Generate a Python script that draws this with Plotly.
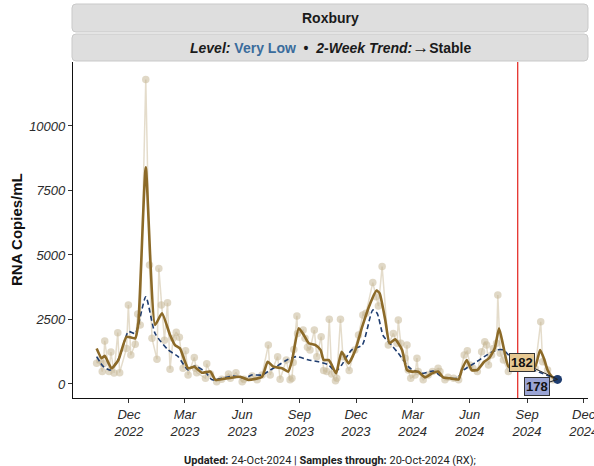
import plotly.graph_objects as go

# ---- data ----
sample_dates = [
    "2022-10-10", "2022-10-15", "2022-10-19", "2022-10-21", "2022-10-23", "2022-10-30",
    "2022-11-02", "2022-11-07", "2022-11-13", "2022-11-16", "2022-11-27", "2022-11-30",
    "2022-12-04", "2022-12-11", "2022-12-15", "2022-12-19", "2022-12-28", "2023-01-03",
    "2023-01-07", "2023-01-15", "2023-01-18", "2023-01-22", "2023-01-27", "2023-02-01",
    "2023-02-05", "2023-02-10", "2023-02-15", "2023-02-20", "2023-02-26", "2023-03-02",
    "2023-03-06", "2023-03-16", "2023-03-18", "2023-03-20", "2023-04-03", "2023-04-05",
    "2023-04-11", "2023-04-21", "2023-04-29", "2023-05-10", "2023-05-13", "2023-05-22",
    "2023-06-01", "2023-06-04", "2023-06-17", "2023-06-25", "2023-07-03", "2023-07-13",
    "2023-07-16", "2023-07-28", "2023-08-01", "2023-08-11", "2023-08-17", "2023-08-20",
    "2023-08-22", "2023-08-23", "2023-08-28", "2023-08-29", "2023-09-07", "2023-09-10",
    "2023-09-14", "2023-09-18", "2023-09-25", "2023-09-29", "2023-10-06", "2023-10-10",
    "2023-10-15", "2023-10-19", "2023-10-23", "2023-10-29", "2023-10-31", "2023-11-06",
    "2023-11-10", "2023-11-20", "2023-11-29", "2023-12-05", "2023-12-12", "2023-12-17",
    "2023-12-28", "2024-01-02", "2024-01-06", "2024-01-12", "2024-01-22", "2024-01-30",
    "2024-02-05", "2024-02-07", "2024-02-11", "2024-02-18", "2024-02-21", "2024-02-23",
    "2024-02-27", "2024-03-05", "2024-03-08", "2024-03-10", "2024-03-18", "2024-03-26",
    "2024-04-02", "2024-04-11", "2024-04-14", "2024-04-22", "2024-04-27", "2024-05-06",
    "2024-05-14", "2024-05-23", "2024-05-28", "2024-06-01", "2024-06-06", "2024-06-13",
    "2024-06-20", "2024-06-25", "2024-06-28", "2024-07-01", "2024-07-06", "2024-07-09",
    "2024-07-14", "2024-07-16", "2024-07-20", "2024-07-25", "2024-08-02", "2024-08-21",
    "2024-09-06", "2024-09-14", "2024-09-23", "2024-09-26", "2024-10-04", "2024-10-13",
    "2024-10-20",
]
sample_values = [
    800, 930, 480, 780, 1670, 480,
    1240, 430, 1990, 440, 1380, 3060,
    1120, 1540, 2710, 2290, 11800, 4610,
    1770, 960, 4480, 3060, 1700, 3150,
    570, 1770, 2010, 1810, 610, 1290,
    350, 1030, 610, 440, 220, 780,
    390, 90, 180, 390, 220, 440,
    90, 180, 310, 160, 350, 1510,
    350, 1060, 180, 930, 160, 220,
    830, 1340, 2640, 1960, 2090, 1770,
    1420, 1320, 2090, 1060, 1830, 520,
    480, 2510, 390, 130, 220, 2510,
    1060, 520, 1320, 1900, 2670, 2740,
    3930, 3380, 3020, 4550, 1510, 1960,
    1580, 2480, 1580, 1000, 1510, 540,
    220, 350, 1000, 480, 160, 350,
    480, 610, 480, 160, 260, 220,
    160, 1120, 1290, 740, 610, 480,
    1250, 1640, 1510, 740, 1120, 1380,
    1580, 3450, 1190, 930, 480, 860,
    930, 610, 2410, 860, 540, 160,
    180,
]

trend_dates = [
    "2022-10-10", "2022-10-18", "2022-10-23", "2022-11-03", "2022-11-14", "2022-11-27",
    "2022-12-11", "2022-12-16", "2022-12-28", "2023-01-12", "2023-01-23", "2023-02-05",
    "2023-02-13", "2023-02-21", "2023-03-06", "2023-03-16", "2023-03-28", "2023-04-11",
    "2023-04-19", "2023-05-08", "2023-05-29", "2023-06-11", "2023-07-03", "2023-07-12",
    "2023-07-21", "2023-08-04", "2023-08-14", "2023-08-20", "2023-08-31", "2023-09-08",
    "2023-09-16", "2023-09-27", "2023-10-05", "2023-10-10", "2023-10-18", "2023-10-23",
    "2023-10-30", "2023-11-08", "2023-11-19", "2023-11-30", "2023-12-11", "2023-12-24",
    "2024-01-03", "2024-01-08", "2024-01-17", "2024-01-24", "2024-02-02", "2024-02-13",
    "2024-02-21", "2024-02-29", "2024-03-10", "2024-03-21", "2024-04-01", "2024-04-11",
    "2024-04-19", "2024-04-30", "2024-05-14", "2024-05-19", "2024-05-27", "2024-06-04",
    "2024-06-13", "2024-06-24", "2024-07-02", "2024-07-11", "2024-07-18", "2024-07-25",
    "2024-08-02", "2024-08-13", "2024-09-06", "2024-09-14", "2024-09-22", "2024-09-28",
    "2024-10-04", "2024-10-11", "2024-10-20",
]
trend_values = [
    1380, 1000, 1090, 610, 930, 1830,
    1770, 2360, 8400, 2290, 2740, 1900,
    1510, 1380, 610, 670, 440, 480,
    160, 220, 280, 160, 280, 860,
    670, 610, 480, 900, 2160, 1900,
    1580, 1510, 1320, 930, 930, 740,
    410, 1250, 800, 1320, 2220, 3130,
    3620, 3510, 2480, 1580, 1730, 1320,
    540, 480, 480, 260, 410, 480,
    260, 220, 180, 540, 930, 540,
    540, 860, 1000, 1380, 2160, 1450,
    670, 600, 740, 670, 1320, 1000,
    540, 280, 182,
]

avg_dates = [
    "2022-10-10", "2022-10-21", "2022-11-01", "2022-11-16", "2022-11-30", "2022-12-11",
    "2022-12-28", "2023-01-12", "2023-02-02", "2023-02-18", "2023-03-06", "2023-03-17",
    "2023-04-02", "2023-04-14", "2023-04-29", "2023-05-18", "2023-06-06", "2023-06-16",
    "2023-07-03", "2023-07-16", "2023-07-30", "2023-08-12", "2023-08-27", "2023-09-16",
    "2023-10-02", "2023-10-18", "2023-10-29", "2023-11-08", "2023-11-24", "2023-12-11",
    "2023-12-28", "2024-01-04", "2024-01-14", "2024-01-27", "2024-02-07", "2024-02-26",
    "2024-03-16", "2024-04-03", "2024-04-19", "2024-05-11", "2024-05-22", "2024-06-12",
    "2024-06-28", "2024-07-14", "2024-07-25", "2024-08-10", "2024-09-06", "2024-10-20",
]
avg_values = [
    1060, 670, 540, 1060, 2030, 1960,
    3380, 1960, 1320, 1060, 540, 700,
    480, 160, 220, 310, 220, 350,
    350, 540, 740, 930, 1060, 930,
    860, 740, 480, 740, 1320, 1510,
    2870, 2740, 1860, 1510, 1190, 610,
    410, 500, 260, 220, 540, 860,
    1120, 1320, 1320, 930, 600, 178,
]

marker_date = "2024-08-17"
x_tick_vals = ["2022-12-01", "2023-03-01", "2023-06-01", "2023-09-01", "2023-12-01",
               "2024-03-01", "2024-06-01", "2024-09-01", "2024-12-01"]
x_tick_text = ["Dec<br>2022", "Mar<br>2023", "Jun<br>2023", "Sep<br>2023", "Dec<br>2023",
               "Mar<br>2024", "Jun<br>2024", "Sep<br>2024", "Dec<br>2024"]
y_tick_vals = [0, 2500, 5000, 7500, 10000]

FONT = "Liberation Sans, Arial, sans-serif"

fig = go.Figure()

# raw samples
fig.add_trace(go.Scatter(
    x=sample_dates, y=sample_values, mode="lines+markers",
    line=dict(color="rgba(210,196,168,0.6)", width=1.5),
    marker=dict(size=7.5, color="rgba(198,184,152,0.55)", line=dict(width=0)),
    hoverinfo="skip", showlegend=False,
))
# long term average (dashed)
fig.add_trace(go.Scatter(
    x=avg_dates, y=avg_values, mode="lines",
    line=dict(color="#1f3d70", width=1.6, dash="5px,3px", shape="spline", smoothing=0.6),
    showlegend=False,
))
# smoothed trend
fig.add_trace(go.Scatter(
    x=trend_dates, y=trend_values, mode="lines",
    line=dict(color="#8c6a28", width=2.6, shape="spline", smoothing=0.5),
    showlegend=False,
))
# final point
fig.add_trace(go.Scatter(
    x=[avg_dates[-1]], y=[avg_values[-1]], mode="markers",
    marker=dict(size=9, color="#1f3d70"), showlegend=False,
))

# red marker line
fig.add_shape(type="line", xref="x", yref="paper", x0=marker_date, x1=marker_date,
              y0=0, y1=1, line=dict(color="#e3211c", width=1.2))

# value labels
fig.add_annotation(
    x=trend_dates[-1], y=trend_values[-1], xref="x", yref="y",
    text=f"<b>{trend_values[-1]}</b>", showarrow=True, arrowhead=0, arrowwidth=1,
    arrowcolor="#222", ax=-36, ay=-17,
    bgcolor="#e6c892", bordercolor="#333", borderwidth=1, borderpad=1,
    font=dict(family=FONT, size=13, color="#111"),
)
fig.add_annotation(
    x=avg_dates[-1], y=avg_values[-1], xref="x", yref="y",
    text=f"<b>{avg_values[-1]}</b>", showarrow=True, arrowhead=0, arrowwidth=1,
    arrowcolor="#222", ax=-21, ay=7,
    bgcolor="#9aa4d4", bordercolor="#333", borderwidth=1, borderpad=1,
    font=dict(family=FONT, size=13, color="#111"),
)

# header strips (rounded rects in paper coords)
L, R, T, B = 73, 588, 62, 398
pw, ph = R - L, B - T


def px2paper(x, y):
    return (x - L) / pw, (B - y) / ph


def rounded(x0, y0, x1, y1, r=4):
    rx, ry = r / pw, r / ph
    a0, b0 = px2paper(x0, y1)
    a1, b1 = px2paper(x1, y0)
    return (f"M {a0+rx},{b0} L {a1-rx},{b0} Q {a1},{b0} {a1},{b0+ry} "
            f"L {a1},{b1-ry} Q {a1},{b1} {a1-rx},{b1} L {a0+rx},{b1} "
            f"Q {a0},{b1} {a0},{b1-ry} L {a0},{b0+ry} Q {a0},{b0} {a0+rx},{b0} Z")


for (y0, y1) in [(4, 32), (34, 61)]:
    fig.add_shape(type="path", xref="paper", yref="paper",
                  path=rounded(72, y0, 588, y1), fillcolor="#dedede",
                  line=dict(color="#c9c9c9", width=1), layer="above")

cx = (330 - L) / pw
fig.add_annotation(x=cx, y=px2paper(0, 18)[1], xref="paper", yref="paper",
                   xanchor="center", yanchor="middle",
                   text="<b>Roxbury</b>", showarrow=False,
                   font=dict(family=FONT, size=14, color="#1a1a1a"))
fig.add_annotation(
    x=cx, y=px2paper(0, 47.5)[1], xref="paper", yref="paper", showarrow=False,
    xanchor="center", yanchor="middle",
    text=("<b><i>Level:</i></b> <b><span style='color:#3a6c9c'>Very Low</span></b>"
          "  <b>•</b>  <b><i>2-Week Trend:</i></b>"
          "<b><span style='font-size:17px'>→</span>Stable</b>"),
    font=dict(family=FONT, size=14, color="#1a1a1a"),
)

# y axis title
fig.add_annotation(x=(16 - L) / pw, y=0.5, xref="paper", yref="paper", showarrow=False,
                   xanchor="center", yanchor="middle",
                   text="<b>RNA Copies/mL</b>", textangle=-90,
                   font=dict(family=FONT, size=15, color="#111"))

# footnote
fig.add_annotation(x=cx, y=px2paper(0, 460)[1], xref="paper", yref="paper", showarrow=False,
                   xanchor="center", yanchor="middle",
                   text="<b>Updated:</b> 24-Oct-2024 | <b>Samples through:</b> 20-Oct-2024 (RX);",
                   font=dict(family="Roboto, sans-serif", size=11, color="#222"))

fig.update_layout(
    width=594, height=466,
    margin=dict(l=L, r=594 - R, t=T, b=466 - B, autoexpand=False),
    paper_bgcolor="white", plot_bgcolor="white",
    showlegend=False,
    xaxis=dict(
        range=["2022-09-02", "2024-12-08"], showgrid=False, zeroline=False,
        showline=True, linecolor="#111", linewidth=1.2, automargin=False,
        ticks="outside", ticklen=4, tickcolor="#333", ticklabeloverflow="allow",
        tickvals=x_tick_vals, ticktext=x_tick_text,
        tickfont=dict(family=FONT, size=13, color="#2b2b2b", style="italic"),
    ),
    yaxis=dict(
        range=[-543, 12480], showgrid=False, zeroline=False,
        showline=True, linecolor="#111", linewidth=1.2, automargin=False,
        ticks="outside", ticklen=4, tickcolor="#333",
        tickvals=y_tick_vals, tickformat="d",
        tickfont=dict(family=FONT, size=13, color="#2b2b2b", style="italic"),
    ),
)

fig.write_html("out.html", config={"displayModeBar": False},
               post_script="document.body.style.margin='0px';")
